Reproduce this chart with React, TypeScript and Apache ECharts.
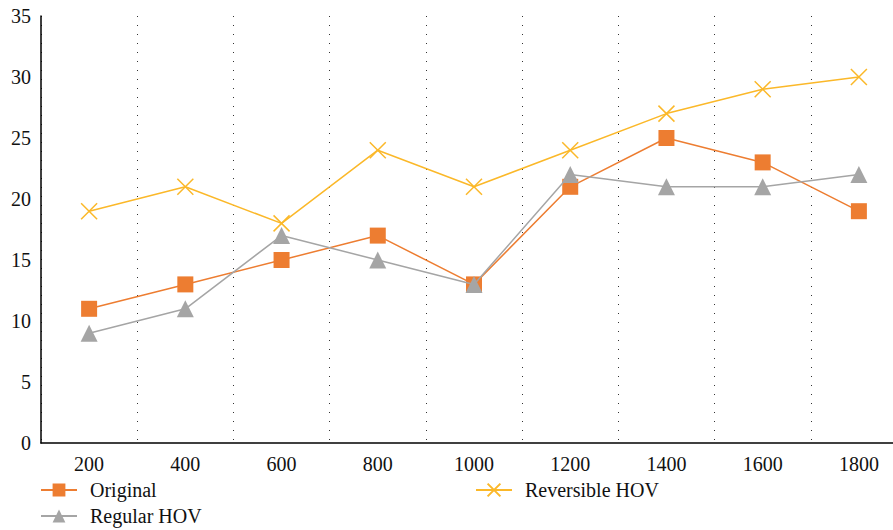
import React, { useEffect, useRef } from "react";
import * as echarts from "echarts";

const categories = ["200", "400", "600", "800", "1000", "1200", "1400", "1600", "1800"];
const original = [11, 13, 15, 17, 13, 21, 25, 23, 19];
const regularHOV = [9, 11, 17, 15, 13, 22, 21, 21, 22];
const reversibleHOV = [19, 21, 18, 24, 21, 24, 27, 29, 30];

const FONT = "Liberation Serif";
const CROSS = "path://M0,0L10,10M10,0L0,10";

const legendText = { fontFamily: FONT, fontSize: 20, color: "#111", padding: [0, 0, 0, 8] };
const legendBase = { itemWidth: 36, itemHeight: 16, orient: "horizontal", padding: 0 };

export default function App() {
  const ref = useRef<HTMLDivElement>(null);
  useEffect(() => {
    const chart = echarts.init(ref.current!, null, { renderer: "svg" });
    chart.setOption({
      animation: false,
      textStyle: { fontFamily: FONT },
      grid: { left: 41, right: 0, top: 16, bottom: 87, containLabel: false },
      legend: [
        { ...legendBase, data: ["Original"], left: 40, top: 480, textStyle: legendText },
        { ...legendBase, data: ["Regular HOV"], left: 40, top: 506, textStyle: legendText },
        { ...legendBase, data: ["Reversible HOV"], left: 475, top: 480, textStyle: legendText },
      ],
      xAxis: {
        type: "category",
        data: categories,
        boundaryGap: true,
        axisLine: { lineStyle: { color: "#000", width: 1.5 } },
        axisTick: { show: false },
        axisLabel: { fontFamily: FONT, fontSize: 20, color: "#111", margin: 11 },
        splitLine: { show: true, lineStyle: { type: [1, 8], color: "#333", width: 1 } },
      },
      yAxis: {
        type: "value",
        min: 0,
        max: 35,
        interval: 5,
        axisLine: { show: true, lineStyle: { color: "#000", width: 1.5 } },
        axisTick: { show: false },
        axisLabel: { fontFamily: FONT, fontSize: 20, color: "#111", margin: 10 },
        splitLine: { show: false },
      },
      series: [
        {
          name: "Original",
          type: "line",
          data: original,
          symbol: "rect",
          symbolSize: 16,
          lineStyle: { color: "#ED7D31", width: 1.5 },
          itemStyle: { color: "#ED7D31" },
          z: 2,
        },
        {
          name: "Regular HOV",
          type: "line",
          data: regularHOV,
          symbol: "triangle",
          symbolSize: 17,
          lineStyle: { color: "#A5A5A5", width: 1.5 },
          itemStyle: { color: "#A5A5A5" },
          z: 3,
        },
        {
          name: "Reversible HOV",
          type: "line",
          data: reversibleHOV,
          symbol: CROSS,
          symbolSize: 16,
          lineStyle: { color: "#FBB829", width: 1.5 },
          itemStyle: { color: "#FBB829", borderColor: "#FBB829", borderWidth: 1.5 },
          z: 4,
        },
      ],
    });
    return () => chart.dispose();
  }, []);
  return (
    <div style={{ width: 893, height: 530, position: "absolute", left: 0, top: 0, overflow: "hidden" }}>
      <div ref={ref} style={{ width: 907, height: 530 }} />
    </div>
  );
}
